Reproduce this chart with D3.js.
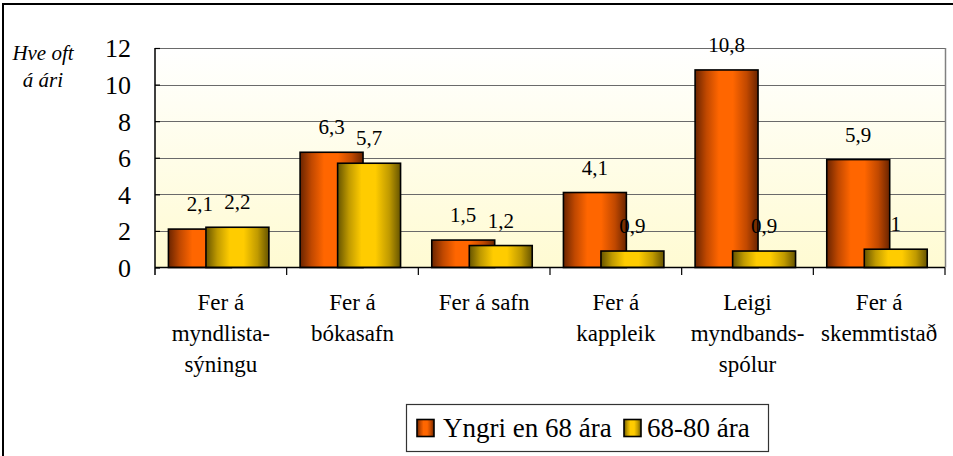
<!DOCTYPE html>
<html>
<head>
<meta charset="utf-8">
<script src="https://cdn.jsdelivr.net/npm/d3@7/dist/d3.min.js"></script>
<style>
  html, body { margin: 0; padding: 0; background: #fff; }
  svg { display: block; }
</style>
</head>
<body>
<svg id="chart" width="953" height="456"></svg>
<script>
// Activities (multi-line category labels)
const categories = [
  ["Fer á", "myndlista-", "sýningu"],
  ["Fer á", "bókasafn"],
  ["Fer á safn"],
  ["Fer á", "kappleik"],
  ["Leigi", "myndbands-", "spólur"],
  ["Fer á", "skemmtistað"]
];
const seriesNames = ["Yngri en 68 ára", "68-80 ára"];
const younger = [2.1, 6.3, 1.5, 4.1, 10.8, 5.9];
const older = [2.2, 5.7, 1.2, 0.9, 0.9, 1];
const yTicks = [0, 2, 4, 6, 8, 10, 12];
const yTitle = ["Hve oft", "á ári"];

const FONT = "Liberation Serif";
const svg = d3.select("#chart");
const plot = { left: 155, right: 945, top: 48, bottom: 267.5 };

// Gradients
const defs = svg.append("defs");
const bg = defs.append("linearGradient").attr("id", "bgGrad")
  .attr("x1", 0).attr("y1", 0).attr("x2", 0).attr("y2", 1);
bg.append("stop").attr("offset", "0%").attr("stop-color", "#ffffff");
bg.append("stop").attr("offset", "100%").attr("stop-color", "#fffbd2");

function barGradient(id, dark, mid, bright) {
  const g = defs.append("linearGradient").attr("id", id)
    .attr("x1", 0).attr("y1", 0).attr("x2", 1).attr("y2", 0);
  [[0, dark], [0.18, mid], [0.38, bright], [0.6, bright], [0.82, mid], [1, dark]]
    .forEach(([o, c]) => g.append("stop").attr("offset", o).attr("stop-color", c));
}
barGradient("gOrange", "#6a2400", "#c04800", "#ff6600");
barGradient("gYellow", "#665400", "#c09a00", "#ffcc00");

// Outer frame
svg.append("rect").attr("x", 3).attr("y", 4).attr("width", 980).attr("height", 480)
  .attr("fill", "#fff").attr("stroke", "#000").attr("stroke-width", 2);

const x = d3.scaleBand().domain(d3.range(categories.length))
  .range([plot.left, plot.right]).paddingInner(0).paddingOuter(0);
const y = d3.scaleLinear().domain([0, 12]).range([plot.bottom, plot.top]);

// Plot area background
svg.append("rect").attr("x", plot.left).attr("y", plot.top)
  .attr("width", plot.right - plot.left).attr("height", plot.bottom - plot.top)
  .attr("fill", "url(#bgGrad)");

// Gridlines
svg.append("g").selectAll("line").data(yTicks.filter(d => d > 0)).join("line")
  .attr("x1", plot.left).attr("x2", plot.right)
  .attr("y1", d => Math.round(y(d)) + 0.5).attr("y2", d => Math.round(y(d)) + 0.5)
  .attr("stroke", "#6a6a6a").attr("stroke-width", 1.2);

// Plot area right border
svg.append("line").attr("x1", plot.right + 0.5).attr("x2", plot.right + 0.5)
  .attr("y1", plot.top).attr("y2", plot.bottom)
  .attr("stroke", "#808080").attr("stroke-width", 1.5);

// Bars
const bw = x.bandwidth();
const barW = bw * 0.478;
const offA = bw * 0.102;
const offB = bw * 0.387;
const series = [
  { values: younger, off: offA, fill: "url(#gOrange)" },
  { values: older, off: offB, fill: "url(#gYellow)" }
];
series.forEach(s => {
  svg.append("g").selectAll("rect").data(s.values).join("rect")
    .attr("x", (d, i) => x(i) + s.off)
    .attr("y", d => y(d))
    .attr("width", barW)
    .attr("height", d => y(0) - y(d))
    .attr("fill", s.fill)
    .attr("stroke", "#000").attr("stroke-width", 1.6);
});

// Value labels
const fmt = v => String(v).replace(".", ",");
series.forEach(s => {
  svg.append("g").selectAll("text").data(s.values).join("text")
    .attr("x", (d, i) => x(i) + s.off + barW / 2)
    .attr("y", d => y(d) - 18)
    .attr("text-anchor", "middle")
    .attr("font-family", FONT)
    .attr("font-size", 21)
    .attr("fill", "#000")
    .text(fmt);
});

// Y axis
const yAxis = d3.axisLeft(y).tickValues(yTicks).tickSizeInner(10).tickSizeOuter(0).tickPadding(14);
const ya = svg.append("g").attr("transform", `translate(${plot.left},0)`).call(yAxis);
ya.select(".domain").remove();
ya.attr("font-family", FONT);
ya.selectAll(".tick line").attr("x2", 5).attr("stroke", "#000").attr("stroke-width", 1.2);
ya.selectAll(".tick text").attr("font-size", 26).attr("font-family", FONT)
  .attr("fill", "#000").attr("dy", "0.34em");
svg.append("line").attr("x1", plot.left).attr("x2", plot.left)
  .attr("y1", plot.top).attr("y2", plot.bottom + 7.5)
  .attr("stroke", "#000").attr("stroke-width", 1.5);

// X axis line and category ticks
svg.append("line").attr("x1", plot.left).attr("x2", plot.right)
  .attr("y1", plot.bottom).attr("y2", plot.bottom)
  .attr("stroke", "#000").attr("stroke-width", 1.5);
svg.append("g").selectAll("line").data(d3.range(1, categories.length + 1)).join("line")
  .attr("x1", i => (i < categories.length ? x(i) : plot.right))
  .attr("x2", i => (i < categories.length ? x(i) : plot.right))
  .attr("y1", plot.bottom).attr("y2", plot.bottom + 7.5)
  .attr("stroke", "#000").attr("stroke-width", 1.2);

// Category labels
const catG = svg.append("g");
categories.forEach((lines, i) => {
  const t = catG.append("text")
    .attr("text-anchor", "middle")
    .attr("font-family", FONT)
    .attr("font-size", 23)
    .attr("fill", "#000");
  lines.forEach((ln, k) => {
    t.append("tspan").attr("x", x(i) + bw / 2).attr("y", 310 + k * 31).text(ln);
  });
});

// Y axis title
svg.append("g").selectAll("text").data(yTitle).join("text")
  .attr("x", 43).attr("y", (d, k) => 60 + k * 27)
  .attr("text-anchor", "middle")
  .attr("font-family", FONT)
  .attr("font-size", 21).attr("font-style", "italic")
  .attr("fill", "#000")
  .text(d => d);

// Legend
const lg = svg.append("g");
lg.append("rect").attr("x", 406.5).attr("y", 404.5).attr("width", 362).attr("height", 47)
  .attr("fill", "#fff").attr("stroke", "#333").attr("stroke-width", 1.2);
const legendItems = [
  { name: seriesNames[0], fill: "url(#gOrange)", sx: 417, tx: 443 },
  { name: seriesNames[1], fill: "url(#gYellow)", sx: 624, tx: 647 }
];
legendItems.forEach(it => {
  lg.append("rect").attr("x", it.sx).attr("y", 419.5).attr("width", 17).attr("height", 17)
    .attr("fill", it.fill).attr("stroke", "#000").attr("stroke-width", 1.6);
  lg.append("text").attr("x", it.tx).attr("y", 437)
    .attr("font-family", FONT)
    .attr("font-size", 27).attr("fill", "#000").text(it.name);
});
</script>
</body>
</html>
